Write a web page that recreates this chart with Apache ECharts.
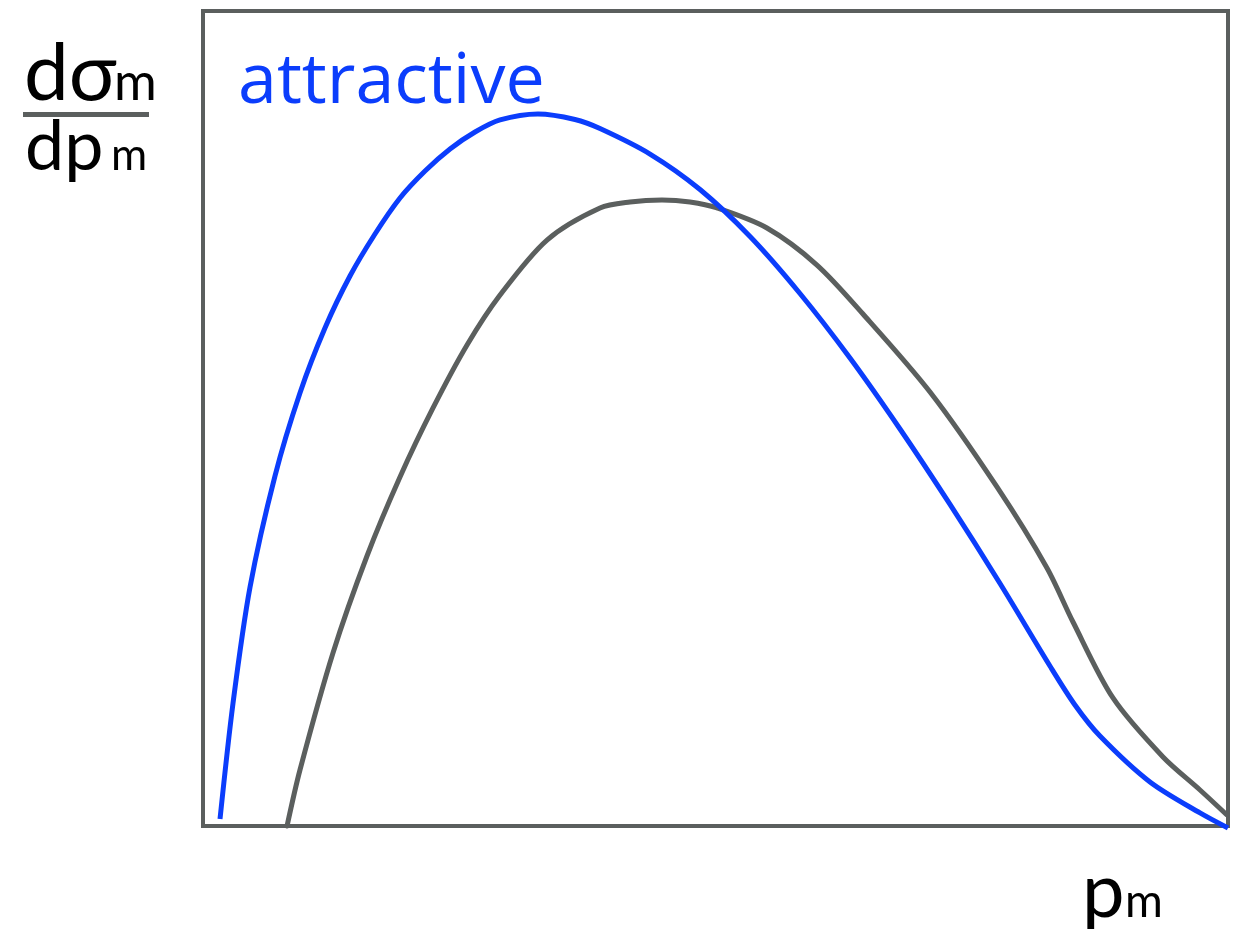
<!DOCTYPE html>
<html>
<head>
<meta charset="utf-8">
<title>dσm/dpm</title>
<script src="https://cdn.jsdelivr.net/npm/echarts@6/dist/echarts.min.js"></script>
<style>
  html, body { margin: 0; padding: 0; background: #ffffff; }
  #chart { width: 1240px; height: 929px; }
</style>
</head>
<body>
<div id="chart"></div>
<script>
// Momentum distribution: attractive interaction (blue) vs reference (gray)
const attractiveP = [0.166, 0.293, 0.459, 0.702, 0.946, 1.190, 1.434, 1.678, 1.922, 2.166, 2.410, 2.654, 2.898, 3.268, 3.629, 3.873, 4.361, 4.849, 5.337, 5.824, 6.312, 6.800, 7.288, 7.776, 8.263, 8.507, 8.751, 9.239, 9.727, 10.0];
const attractiveY = [0.086, 1.509, 2.933, 4.294, 5.313, 6.110, 6.748, 7.264, 7.706, 8.037, 8.307, 8.515, 8.663, 8.736, 8.669, 8.558, 8.245, 7.810, 7.233, 6.534, 5.742, 4.871, 3.945, 2.975, 1.963, 1.485, 1.104, 0.540, 0.160, -0.025];

const referenceP = [0.820, 0.946, 1.268, 1.600, 1.922, 2.244, 2.576, 2.898, 3.356, 3.873, 4.166, 4.478, 4.751, 5.015, 5.502, 5.990, 6.439, 7.093, 7.746, 8.234, 8.488, 8.878, 9.366, 9.727, 9.990];
const referenceY = [0.000, 0.687, 2.123, 3.313, 4.282, 5.129, 5.902, 6.515, 7.190, 7.583, 7.656, 7.681, 7.656, 7.583, 7.337, 6.883, 6.282, 5.325, 4.160, 3.166, 2.503, 1.571, 0.847, 0.442, 0.135];

const BLUE = '#0b3dfc';
const GRAY = '#5b5f5e';
const FONT = 'Lato, "Open Sans", sans-serif';
const LABEL_FONT = '"Open Sans", Lato, sans-serif';

const pairs = (xs, ys) => xs.map((x, i) => [x, ys[i]]);

const chart = echarts.init(document.getElementById('chart'), null, { renderer: 'canvas' });

chart.setOption({
  backgroundColor: '#ffffff',
  animation: false,
  grid: {
    left: 203, right: 12, top: 11, bottom: 103,
    show: true,
    borderColor: GRAY,
    borderWidth: 4,
    backgroundColor: 'transparent'
  },
  xAxis: {
    type: 'value', min: 0, max: 10,
    axisLine: { show: false }, axisTick: { show: false },
    axisLabel: { show: false }, splitLine: { show: false }
  },
  yAxis: {
    type: 'value', min: 0, max: 10,
    axisLine: { show: false }, axisTick: { show: false },
    axisLabel: { show: false }, splitLine: { show: false }
  },
  series: [
    {
      name: 'reference',
      type: 'line',
      data: pairs(referenceP, referenceY),
      smooth: 0.3,
      showSymbol: false,
      clip: false,
      lineStyle: { color: GRAY, width: 5, join: 'round', cap: 'round' }
    },
    {
      name: 'attractive',
      type: 'line',
      data: pairs(attractiveP, attractiveY),
      smooth: 0.3,
      showSymbol: false,
      clip: false,
      lineStyle: { color: BLUE, width: 5, join: 'round', cap: 'butt' }
    }
  ],
  graphic: [
    // series label
    { type: 'text', x: 238, y: 48,
      style: { text: 'attractive', fill: BLUE, font: '70px ' + LABEL_FONT } },
    // y-axis label: dσm / dpm
    { type: 'text', x: 24, y: 34,
      style: { text: 'dσ', fill: '#000', font: '80px ' + FONT } },
    { type: 'text', x: 114, y: 57,
      style: { text: 'm', fill: '#000', font: '52px ' + FONT } },
    { type: 'line', shape: { x1: 23, y1: 114.5, x2: 149, y2: 114.5 },
      style: { stroke: GRAY, lineWidth: 5 } },
    { type: 'text', x: 25, y: 112,
      style: { text: 'dp', fill: '#000', font: '70px ' + FONT } },
    { type: 'text', x: 111, y: 134,
      style: { text: 'm', fill: '#000', font: '44px ' + FONT } },
    // x-axis label: pm
    { type: 'text', x: 1082, y: 854,
      style: { text: 'p', fill: '#000', font: '76px ' + FONT } },
    { type: 'text', x: 1125, y: 879,
      style: { text: 'm', fill: '#000', font: '46px ' + FONT } }
  ]
});
</script>
</body>
</html>
